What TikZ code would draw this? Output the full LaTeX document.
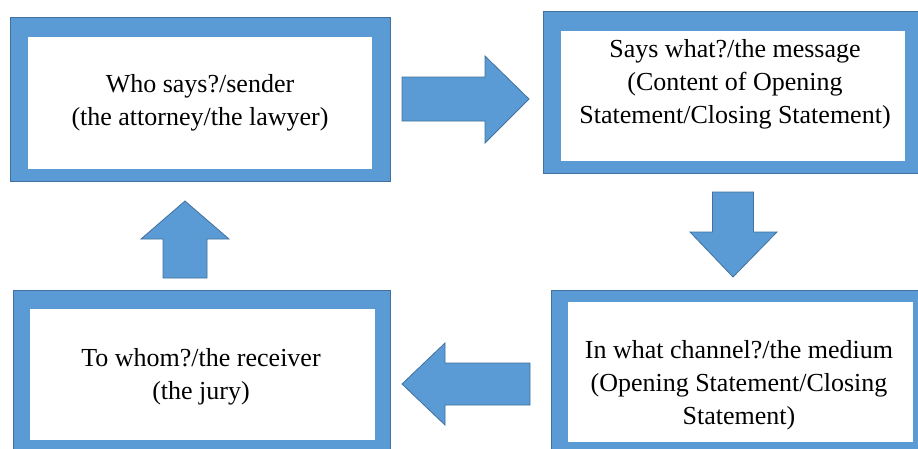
\documentclass[tikz,border=0pt]{standalone}
\usepackage{fontspec}
\setmainfont{Liberation Serif}
\definecolor{boxblue}{HTML}{5B9BD5}
\definecolor{edgeblue}{HTML}{41719C}
\begin{document}
\begin{tikzpicture}[x=1pt,y=-1pt]
\tikzset{
  outerbox/.style={rectangle, fill=boxblue, draw=edgeblue, line width=0.8pt, inner sep=0pt},
  innerbox/.style={rectangle, fill=white, draw=none, inner sep=0pt},
  label/.style={align=center, inner sep=0pt, font=\fontsize{26}{33}\selectfont, text=black},
  blockarrow/.style={fill=boxblue, draw=edgeblue, line width=0.8pt, line join=miter}
}
\clip (0,0) rectangle (918,448);
\fill[white] (0,0) rectangle (918,448);
% boxes
\node[outerbox, minimum width=380pt, minimum height=164pt] (b1) at (200,99) {};
\node[innerbox, minimum width=344pt, minimum height=132pt] (i1) at (200,103) {};
\node[outerbox, minimum width=382pt, minimum height=162pt] (b2) at (734,92) {};
\node[innerbox, minimum width=344pt, minimum height=130pt] (i2) at (733,96) {};
\node[outerbox, minimum width=379pt, minimum height=170pt] (b3) at (740.5,375) {};
\node[innerbox, minimum width=345pt, minimum height=140pt] (i3) at (740.5,372) {};
\node[outerbox, minimum width=377pt, minimum height=170pt] (b4) at (201.5,375) {};
\node[innerbox, minimum width=345pt, minimum height=131pt] (i4) at (202.5,374.5) {};
% texts
\node[label] (t1) at (200,103) {Who says?/sender\\(the attorney/the lawyer)};
\node[label] (t2) at (735,84) {Says what?/the message\\(Content of Opening\\Statement/Closing Statement)};
\node[label] (t3) at (739,385) {In what channel?/the medium\\(Opening Statement/Closing\\Statement)};
\node[label] (t4) at (201,376.5) {To whom?/the receiver\\(the jury)};
% block arrows
\draw[blockarrow] (402,77) -- (485,77) -- (485,56) -- (529,99) -- (485,143) -- (485,121) -- (402,121) -- cycle;
\draw[blockarrow] (712.5,192) -- (753.5,192) -- (753.5,232) -- (777,232) -- (733,277) -- (690,232) -- (712.5,232) -- cycle;
\draw[blockarrow] (530,363) -- (445,363) -- (445,343) -- (402,384) -- (445,425) -- (445,405) -- (530,405) -- cycle;
\draw[blockarrow] (163,278) -- (207,278) -- (207,239) -- (229,239) -- (185,201) -- (141,239) -- (163,239) -- cycle;
\end{tikzpicture}
\end{document}
